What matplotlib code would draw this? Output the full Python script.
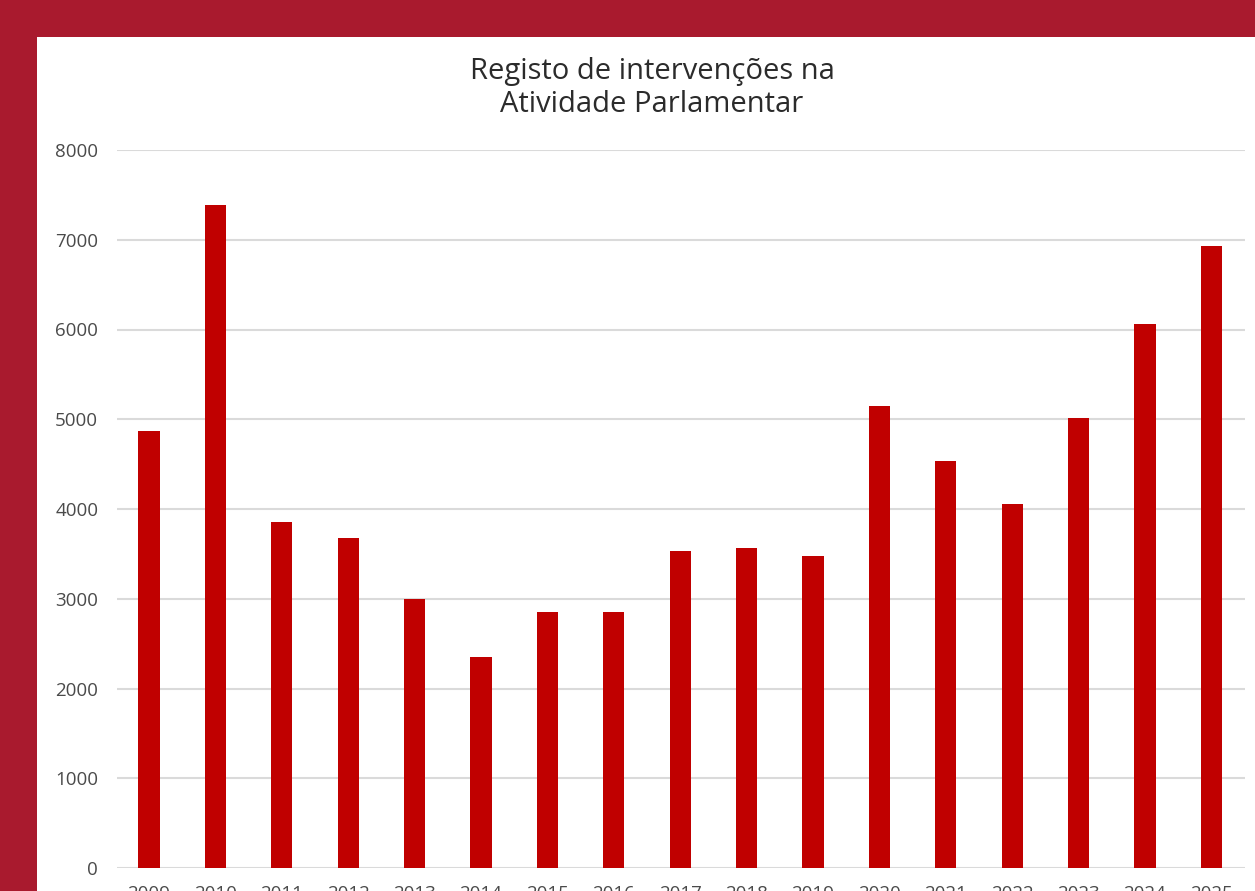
import numpy as np
import matplotlib.pyplot as plt
from matplotlib.patches import Rectangle

# data
years = ['2009', '2010', '2011', '2012', '2013', '2014', '2015', '2016', '2017',
         '2018', '2019', '2020', '2021', '2022', '2023', '2024', '2025']
interventions = [4873, 7387, 3855, 3676, 3000, 2346, 2851, 2851, 3527,
                 3561, 3471, 5152, 4539, 4060, 5014, 6059, 6933]
yticks = [0, 1000, 2000, 3000, 4000, 5000, 6000, 7000, 8000]

W, H = 1255, 891
plt.rcParams['font.family'] = ['Open Sans', 'DejaVu Sans']

fig = plt.figure(figsize=(W / 100, H / 100), dpi=100, facecolor='#A91A2E')
# white card behind the chart
fig.patches.append(Rectangle((37 / W, 0), 1 - 37 / W, (H - 37) / H,
                             transform=fig.transFigure, facecolor='white',
                             edgecolor='none', zorder=-5))

ax = fig.add_axes([117 / W, (H - 868) / H, (1245 - 117) / W, (868 - 150) / H])
ax.set_facecolor('none')
x = np.arange(len(years))
ax.bar(x, interventions, width=0.32, color='#C00000', zorder=3)

ax.set_xlim(-0.482, len(years) - 0.493)
ax.set_ylim(0, 8000)
ax.set_yticks(yticks)
ax.set_xticks(x, years)
ax.grid(axis='y', color='#DADADA', linewidth=1.5, zorder=0)
ax.tick_params(axis='both', length=0, labelsize=13.5, labelcolor='#4a4a4a')
ax.tick_params(axis='y', pad=13.5)
ax.tick_params(axis='x', pad=12)
for s in ax.spines.values():
    s.set_visible(False)

fig.text(652 / W, (H - 88) / H, 'Registo de intervenções na\nAtividade Parlamentar',
         ha='center', va='center', fontsize=21, color='#2b2b2b', linespacing=1.2)

fig.savefig('out.png', dpi=100, facecolor=fig.get_facecolor())
